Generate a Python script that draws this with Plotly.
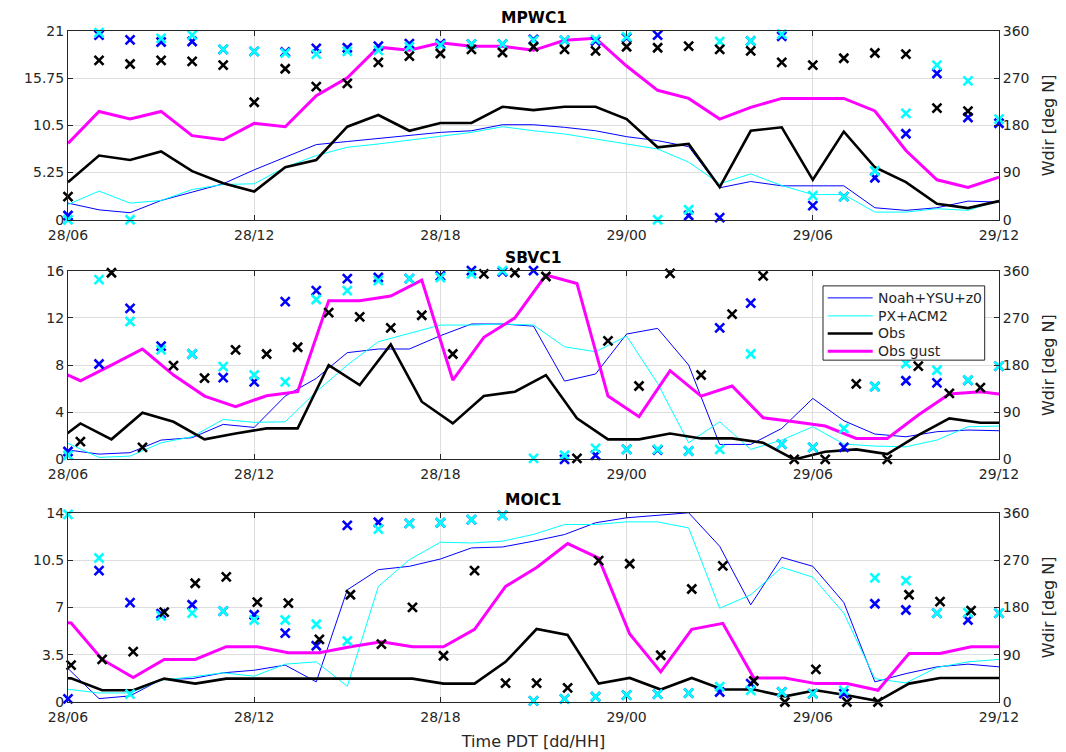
import plotly.graph_objects as go

# ---------------- data ----------------
hours = list(range(31))                       # 28/06 ... 29/12 (hours)
tick_vals = [0, 6, 12, 18, 24, 30]
tick_text = ["28/06", "28/12", "28/18", "29/00", "29/06", "29/12"]
series_names = ["Noah+YSU+z0", "PX+ACM2", "Obs", "Obs gust"]
stations = ["MPWC1", "SBVC1", "MOIC1"]

# MPWC1
mpwc1_obs_hours = list(range(31))
mpwc1_noah_spd = [1.85, 1.1, 0.78, 2.14, 3.07, 4.0, 5.55, 6.95, 8.36, 8.7, 9.06, 9.43, 9.72, 9.9, 10.57, 10.57,
                  10.28, 9.9, 9.24, 8.8, 8.13, 3.55, 4.25, 3.77, 3.77, 3.77, 1.33, 1.04, 1.33, 2.07, 1.96]
mpwc1_px_spd = [1.7, 3.18, 1.85, 2.14, 3.36, 3.92, 4.0, 5.84, 7.14, 8.06, 8.43, 8.87, 9.35, 9.72, 10.35, 9.9,
                9.54, 9.0, 8.43, 7.87, 6.4, 4.0, 5.1, 3.8, 2.8, 2.8, 0.85, 0.85, 1.22, 1.04, 2.14]
mpwc1_obs_spd = [4.18, 7.14, 6.65, 7.6, 5.4, 4.07, 3.14, 5.84, 6.65, 10.35, 11.65, 9.9, 10.76, 10.76, 12.57, 12.2,
                 12.57, 12.57, 11.2, 8.06, 8.43, 3.62, 9.9, 10.28, 4.44, 9.8, 5.84, 4.18, 1.77, 1.29, 2.07]
mpwc1_gust = [8.5, 12.05, 11.2, 12.05, 9.35, 8.9, 10.72, 10.35, 13.8, 15.8, 19.2, 18.85, 19.7, 19.3, 19.3, 18.85,
              19.96, 20.2, 17.1, 14.4, 13.5, 11.2, 12.5, 13.5, 13.5, 13.5, 12.1, 7.7, 4.44, 3.6, 4.73]
mpwc1_noah_dir = [8, 352, 343, 339, 340, 325, 321, 320, 327, 328, 331, 336, 336, 335, 335, 344,
                  342, 341, 347, 352, 8, 4, 341, 350, 27, 44, 80, 164, 279, 195, 184]
mpwc1_px_dir = [0, 357, 0, 346, 352, 325, 321, 318, 316, 321, 323, 330, 333, 335, 335, 342,
                342, 344, 349, 0, 19, 340, 341, 354, 46, 44, 93, 203, 295, 265, 192]
mpwc1_obs_dir = [44, 304, 297, 304, 302, 295, 224, 288, 254, 260, 300, 312, 317, 325, 319, 330,
                 325, 322, 330, 328, 331, 325, 322, 300, 295, 308, 318, 316, 213, 207, None]

# SBVC1 (observations reported at hh+0.4)
sbvc1_obs_hours = [-0.6 + i for i in range(32)]
sbvc1_noah_spd = [0.8, 0.45, 0.57, 1.64, 1.84, 2.97, 2.71, 5.37, 6.87, 9.05, 9.36, 9.36, 10.49, 11.48, 11.48, 11.3,
                  6.64, 7.24, 10.63, 11.11, 8.0, 1.27, 1.27, 2.63, 5.17, 3.28, 2.15, 1.92, 2.35, 2.49, 2.43]
sbvc1_px_spd = [1.36, 0.17, 0.28, 1.41, 1.92, 3.39, 3.14, 3.19, 5.74, 8.0, 9.98, 10.69, 11.39, 11.39, 11.48, 11.39,
                9.55, 9.13, 10.46, 6.44, 1.41, 3.19, 0.85, 1.64, 2.77, 1.3, 1.13, 1.07, 1.64, 2.77, 2.83]
sbvc1_obs_spd = [1.07, 3.05, 1.7, 3.96, 3.19, 1.7, 2.2, 2.63, 2.63, 8.0, 6.3, 9.75, 4.89, 3.05, 5.37, 5.74,
                 7.15, 3.48, 1.7, 1.7, 2.2, 1.78, 1.78, 1.41, 0.0, 0.65, 0.85, 0.45, 2.06, 3.48, 3.11, 3.11]
sbvc1_gust = [7.87, 6.67, 8.0, 9.36, 7.15, 5.37, 4.47, 5.4, 5.74, 13.46, 13.46, 13.85, 15.2, 6.73, 10.35, 12.0,
              15.63, 14.92, 5.37, 3.62, 7.52, 5.37, 6.22, 3.53, 3.19, 2.83, 1.78, 1.78, 3.76, 5.54, 5.74, 5.41]
sbvc1_noah_dir = [15, 182, 288, 216, 201, 156, 148, 301, 322, 345, 347, 345, 350, 360, 358, 360,
                  0, 8, 19, 18, 16, 251, 298, 29, 23, 23, 139, 150, 146, 151, 178]
sbvc1_px_dir = [8, 343, 263, 209, 201, 177, 161, 148, 305, 322, 341, 345, 347, 354, 360, 2,
                8, 21, 19, 19, 16, 19, 201, 29, 23, 59, 139, 183, 170, 151, 178]
sbvc1_obs_dir = [None, 34, 356, 23, 179, 155, 209, 201, 214, 280, 272, 251, 275, 201, 354, 356,
                 349, 2, 226, 140, 355, 161, 277, 350, 0, 0, 144, 0, 178, 126, 137, None]

# MOIC1 (observations reported at hh+0.1)
moic1_obs_hours = [-0.9 + i for i in range(32)]
moic1_noah_spd = [2.48, 0.25, 0.45, 1.66, 1.73, 2.16, 2.35, 2.73, 1.49, 8.3, 9.79, 10.04, 10.58, 11.4, 11.47, 11.9,
                  12.39, 13.26, 13.63, 13.8, 14.0, 11.52, 7.19, 10.7, 10.04, 7.36, 1.49, 2.1, 2.6, 2.8, 2.6]
moic1_px_spd = [0.94, 0.67, 0.67, 1.61, 1.86, 2.16, 1.91, 2.8, 2.97, 1.16, 8.55, 10.53, 11.82, 11.77, 11.9, 12.4,
                13.13, 13.13, 13.33, 13.33, 12.88, 6.94, 7.93, 9.96, 9.24, 6.57, 1.73, 1.41, 2.55, 2.97, 3.15]
moic1_obs_spd = [1.8, 1.75, 0.87, 0.87, 1.73, 1.36, 1.73, 1.73, 1.73, 1.73, 1.73, 1.73, 1.73, 1.36, 1.36, 2.97,
                 5.4, 4.96, 1.36, 1.78, 0.92, 1.78, 0.92, 0.92, 0.42, 0.87, 0.5, 0.07, 1.36, 1.78, 1.78, 1.78]
moic1_gust = [6.0, 5.85, 3.15, 1.81, 3.15, 3.15, 4.09, 4.09, 3.64, 3.64, 4.09, 4.46, 4.09, 4.09, 5.38, 8.55,
              9.95, 11.72, 10.65, 5.03, 2.23, 5.38, 5.82, 1.78, 1.78, 1.36, 1.36, 0.87, 3.59, 3.59, 4.09, 4.09]
moic1_noah_dir = [6, 250, 189, 168, 185, 173, 166, 131, 107, 336, 342, 340, 341, 347, 355, 2,
                  6, 10, 13, 15, 17, 19, 35, 19, 16, 16, 187, 175, 169, 156, 169]
moic1_px_dir = [357, 274, 15, 164, 169, 173, 156, 156, 148, 116, 329, 340, 341, 347, 355, 2,
                6, 10, 13, 15, 17, 29, 22, 19, 16, 22, 236, 231, 169, 170, 169]
moic1_obs_dir = [None, 70, 81, 96, 171, 226, 238, 190, 188, 119, 204, 110, 180, 88, 250, 36,
                 36, 27, 269, 263, 89, 215, 259, 40, 0, 62, 0, 0, 204, 191, 174, None]

speed_ticks = [[0, 5.25, 10.5, 15.75, 21], [0, 4, 8, 12, 16], [0, 3.5, 7, 10.5, 14]]
speed_ticktext = [["0", "5.25", "10.5", "15.75", "21"], ["0", "4", "8", "12", "16"], ["0", "3.5", "7", "10.5", "14"]]
dir_ticks = [0, 90, 180, 270, 360]

panels = [
    (mpwc1_obs_hours, mpwc1_noah_spd, mpwc1_px_spd, mpwc1_obs_spd, mpwc1_gust,
     mpwc1_noah_dir, mpwc1_px_dir, mpwc1_obs_dir),
    (sbvc1_obs_hours, sbvc1_noah_spd, sbvc1_px_spd, sbvc1_obs_spd, sbvc1_gust,
     sbvc1_noah_dir, sbvc1_px_dir, sbvc1_obs_dir),
    (moic1_obs_hours, moic1_noah_spd, moic1_px_spd, moic1_obs_spd, moic1_gust,
     moic1_noah_dir, moic1_px_dir, moic1_obs_dir),
]

# ---------------- style ----------------
FONT = "DejaVu Sans"
AX = "#262626"
GRID = "#dedede"
BLUE, CYAN, BLACK, MAGENTA = "#0000ff", "#00ffff", "#000000", "#ff00ff"
colors = [BLUE, CYAN, BLACK, MAGENTA]
widths = [1, 1, 2.6, 3]

# the page body adds an 8px margin, so the figure is 8px smaller and all
# positions below are given in page pixels minus 8
OFF = 8
W, H = 1066 - OFF, 752 - OFF
PL, PR, PT, PB = 68.3 - OFF, 999.3 - OFF, 30.7 - OFF, 702 - OFF
ML, MR, MT, MB = PL, W - PR, PT, H - PB
PW, PH = PR - PL, PB - PT

def clamp(v):
    return max(0.0, min(1.0, v))
def px_x(page_x):
    return (page_x - OFF - PL) / PW
def px_y(page_y):
    return 1 - (page_y - OFF - PT) / PH
def ydom(top_page, bot_page):
    return [clamp(px_y(bot_page)), clamp(px_y(top_page))]
domains = [ydom(30.7, 219.5), ydom(270.5, 459.3), ydom(512.7, 702)]

fig = go.Figure()

for i, (ohrs, nspd, pspd, ospd, gust, ndir, pdir, odir) in enumerate(panels):
    xa = "x" if i == 0 else f"x{i+1}"
    yl = "y" if i == 0 else f"y{2*i+1}"
    yr = f"y{2*i+2}"
    for k, (xs, ys) in enumerate([(hours, nspd), (hours, pspd), (ohrs, ospd), (ohrs, gust)]):
        fig.add_trace(go.Scatter(x=xs, y=ys, mode="lines", name=series_names[k],
                                 line=dict(color=colors[k], width=widths[k]), xaxis=xa, yaxis=yl,
                                 showlegend=False))
    for xs, ys, col in [(hours, ndir, BLUE), (hours, pdir, CYAN), (ohrs, odir, BLACK)]:
        fig.add_trace(go.Scatter(x=xs, y=ys, mode="markers", showlegend=False, cliponaxis=False,
                                 marker=dict(symbol="x-thin", size=9, color=col,
                                             line=dict(color=col, width=2.6)),
                                 xaxis=xa, yaxis=yr))

    xkey = "xaxis" if i == 0 else f"xaxis{i+1}"
    ylkey = "yaxis" if i == 0 else f"yaxis{2*i+1}"
    yrkey = f"yaxis{2*i+2}"
    fig.layout[xkey] = dict(range=[0, 30], domain=[0, 1], anchor=yl,
                            tickmode="array", tickvals=tick_vals, ticktext=tick_text,
                            showgrid=True, gridcolor=GRID, gridwidth=1, zeroline=False,
                            showline=True, linecolor=AX, linewidth=1, mirror="ticks",
                            ticks="inside", ticklen=5, tickcolor=AX, ticklabelstandoff=2,
                            automargin=False,
                            tickfont=dict(family=FONT, size=14, color=AX))
    fig.layout[ylkey] = dict(range=[0, speed_ticks[i][-1]], domain=domains[i], anchor=xa,
                             tickmode="array", tickvals=speed_ticks[i], ticktext=speed_ticktext[i],
                             showgrid=True, gridcolor=GRID, gridwidth=1, zeroline=False,
                             showline=True, linecolor=AX, linewidth=1,
                             ticks="inside", ticklen=5, tickcolor=AX, automargin=False,
                             tickfont=dict(family=FONT, size=14, color=AX))
    fig.layout[yrkey] = dict(range=[0, 360], overlaying=yl, side="right", anchor=xa,
                             tickmode="array", tickvals=dir_ticks,
                             showgrid=False, zeroline=False,
                             showline=True, linecolor=AX, linewidth=1,
                             ticks="inside", ticklen=5, tickcolor=AX, automargin=False,
                             tickfont=dict(family=FONT, size=14, color=AX),
                             title=dict(text="Wdir [deg N]", standoff=14,
                                        font=dict(family=FONT, size=16, color=AX)))
    fig.add_annotation(text=f"<b>{stations[i]}</b>", xref="paper", yref="paper",
                       x=0.5, y=domains[i][1], xanchor="center", yanchor="bottom", yshift=3,
                       borderpad=0, showarrow=False,
                       font=dict(family=FONT, size=15.5, color="#000000"))

fig.layout["xaxis3"]["title"] = dict(text="Time PDT [dd/HH]", standoff=12,
                                     font=dict(family=FONT, size=16, color=AX))

# ---- legend box drawn inside the SBVC1 panel ----
LEG_L, LEG_R, LEG_T, LEG_B = 823.3, 985.0, 285.7, 360.0
row_y = [297.7, 315.7, 333.3, 351.0]
fig.add_shape(type="rect", xref="paper", yref="paper",
              x0=px_x(LEG_L), x1=px_x(LEG_R), y0=px_y(LEG_B), y1=px_y(LEG_T),
              fillcolor="white", line=dict(color=AX, width=1), layer="above")
for k, name in enumerate(series_names):
    fig.add_shape(type="line", xref="paper", yref="paper",
                  x0=px_x(828), x1=px_x(873), y0=px_y(row_y[k]), y1=px_y(row_y[k]),
                  line=dict(color=colors[k], width=widths[k]), layer="above")
    fig.add_annotation(text=name, xref="paper", yref="paper", x=px_x(876), y=px_y(row_y[k]),
                       xanchor="left", yanchor="middle", showarrow=False,
                       font=dict(family=FONT, size=14, color=AX))

fig.update_layout(
    width=W, height=H,
    margin=dict(l=ML, r=MR, t=MT, b=MB, pad=0, autoexpand=False),
    paper_bgcolor="white", plot_bgcolor="white",
    font=dict(family=FONT, size=14, color=AX),
    showlegend=False,
)

fig.write_html("out.html")
